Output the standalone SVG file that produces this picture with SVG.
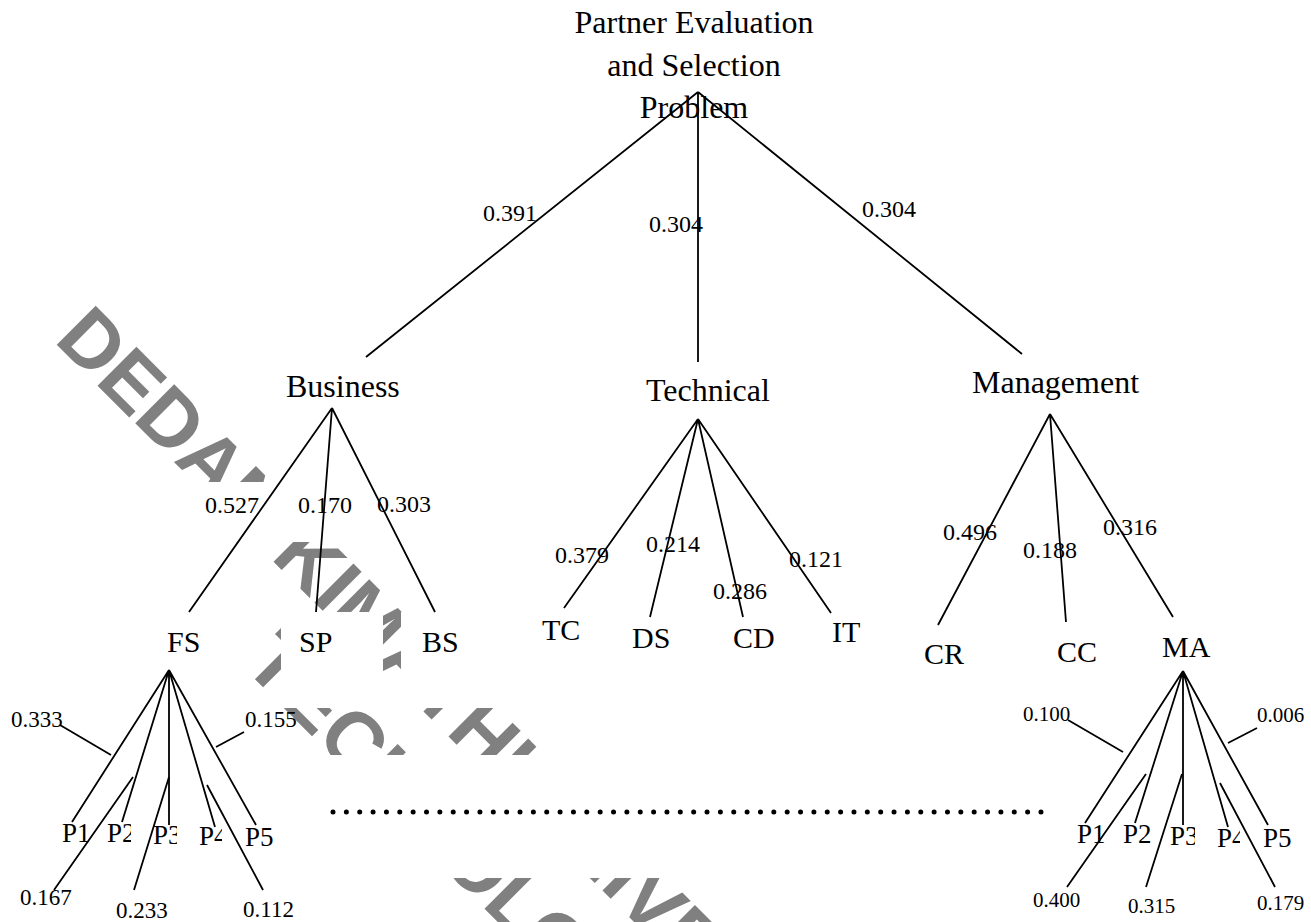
<svg xmlns="http://www.w3.org/2000/svg" width="1311" height="922" viewBox="0 0 1311 922">
<defs>
<style>
.t{font-family:"Liberation Serif","Times New Roman",serif;fill:#000}
.h{font-size:32px}
.c{font-size:30px}
.w{font-size:24px}
.ws{font-size:23px}
.wm{font-size:21px}
.p{font-size:27px}
.ln{stroke:#000;stroke-width:1.8;fill:none;stroke-linecap:butt}
.wmk{font-family:"Liberation Sans",Arial,sans-serif;font-weight:bold;font-size:80px;fill:#808080}
</style>
<clipPath id="wclip">
<rect x="0" y="0" width="1311" height="482"/>
<rect x="262" y="542" width="1049" height="70"/>
<rect x="250" y="612" width="31" height="78"/>
<rect x="383" y="612" width="18" height="60"/>
<rect x="0" y="708" width="1311" height="47"/>
<rect x="0" y="878" width="1311" height="44"/>
</clipPath>
<clipPath id="cP2a"><rect x="0" y="800" width="131" height="60"/></clipPath>
<clipPath id="cP3a"><rect x="0" y="800" width="177" height="60"/></clipPath>
<clipPath id="cP4a"><rect x="0" y="800" width="222" height="60"/></clipPath>
<clipPath id="cP3b"><rect x="1100" y="800" width="95" height="60"/></clipPath>
<clipPath id="cP4b"><rect x="1100" y="800" width="140" height="60"/></clipPath>
</defs>
<rect width="1311" height="922" fill="#fff"/>
<g id="watermark" clip-path="url(#wclip)">
<g transform="rotate(45)">
<text class="wmk" x="278.6" y="203.7">DEDAN KIMATHI UNIVERSITY OF</text>
<text class="wmk" x="642" y="300">TECHNOLOGY</text>
</g>
</g>
<g id="connectors">
<path class="ln" d="M698,92 L366,357 M698,92 L698,362 M698,92 L1022,354"/>
<path class="ln" d="M332,408 L189,612 M332,408 L316,612 M332,408 L435,612"/>
<path class="ln" d="M698,419 L564,608 M698,419 L650,617 M698,419 L743,617 M698,419 L831,613"/>
<path class="ln" d="M1050,414 L938,625 M1050,414 L1066,622 M1050,414 L1173,617"/>
<path class="ln" d="M169,670 L72,822 M169,670 L122,822 M169,670 L169,825 M169,670 L215,827 M169,670 L256,825"/>
<path class="ln" d="M60,725 L111,755 M244,732 L216,747 M133,777 L54,890 M169,777 L134,890 M207,785 L263,890"/>
<path class="ln" d="M1183,671 L1085,823 M1183,671 L1135,823 M1183,671 L1183,825 M1183,671 L1228,827 M1183,671 L1268,825"/>
<path class="ln" d="M1068,720 L1123,752 M1257,728 L1228,743 M1146,774 L1067,887 M1182,774 L1146,887 M1220,783 L1275,887"/>
<line x1="333" y1="812" x2="1041" y2="812" stroke="#000" stroke-width="5" stroke-linecap="round" stroke-dasharray="0 13.358"/>
</g>
<g id="root"><text class="t h" text-anchor="middle" x="694" y="33">Partner Evaluation</text><text class="t h" text-anchor="middle" x="694" y="75.5">and Selection</text><text class="t h" text-anchor="middle" x="694" y="118">Problem</text></g>
<g id="business"><text class="t h" x="286" y="397">Business</text></g>
<g id="technical"><text class="t h" x="646" y="401">Technical</text></g>
<g id="management"><text class="t h" x="972" y="393">Management</text></g>
<g id="fs"><text class="t c" x="167" y="652">FS</text></g>
<g id="sp"><text class="t c" x="299" y="652">SP</text></g>
<g id="bs"><text class="t c" x="422" y="652">BS</text></g>
<g id="tc"><text class="t c" x="542" y="640">TC</text></g>
<g id="ds"><text class="t c" x="632" y="648">DS</text></g>
<g id="cd"><text class="t c" x="733" y="648">CD</text></g>
<g id="it"><text class="t c" x="832" y="642">IT</text></g>
<g id="cr"><text class="t c" x="924" y="664">CR</text></g>
<g id="cc"><text class="t c" x="1057" y="662">CC</text></g>
<g id="ma"><text class="t c" x="1162" y="657">MA</text></g>
<g id="weights">
<text class="t w" x="483" y="221">0.391</text>
<text class="t w" x="649" y="232">0.304</text>
<text class="t w" x="862" y="217">0.304</text>
<text class="t w" x="205" y="513">0.527</text>
<text class="t w" x="298" y="513">0.170</text>
<text class="t w" x="377" y="512">0.303</text>
<text class="t w" x="555" y="563">0.379</text>
<text class="t w" x="646" y="552">0.214</text>
<text class="t w" x="713" y="599">0.286</text>
<text class="t w" x="789" y="567">0.121</text>
<text class="t w" x="943" y="540">0.496</text>
<text class="t w" x="1023" y="558">0.188</text>
<text class="t w" x="1103" y="535">0.316</text>
<text class="t ws" x="11" y="727">0.333</text>
<text class="t ws" x="245" y="727">0.155</text>
<text class="t ws" x="20" y="905">0.167</text>
<text class="t ws" x="116" y="918">0.233</text>
<text class="t ws" x="243" y="917">0.112</text>
<text class="t wm" x="1023" y="721">0.100</text>
<text class="t wm" x="1257" y="722">0.006</text>
<text class="t wm" x="1033" y="907">0.400</text>
<text class="t wm" x="1128" y="913">0.315</text>
<text class="t wm" x="1257" y="910">0.179</text>
</g>
<g id="fs-alternatives">
<text class="t p" x="62" y="842">P1</text>
<text class="t p" x="107" y="842" clip-path="url(#cP2a)">P2</text>
<text class="t p" x="153" y="844" clip-path="url(#cP3a)">P3</text>
<text class="t p" x="199" y="845" clip-path="url(#cP4a)">P4</text>
<text class="t p" x="245" y="846">P5</text>
</g>
<g id="ma-alternatives">
<text class="t p" x="1077" y="843">P1</text>
<text class="t p" x="1123" y="843">P2</text>
<text class="t p" x="1170" y="845" clip-path="url(#cP3b)">P3</text>
<text class="t p" x="1217" y="847" clip-path="url(#cP4b)">P4</text>
<text class="t p" x="1263" y="847">P5</text>
</g>
</svg>
